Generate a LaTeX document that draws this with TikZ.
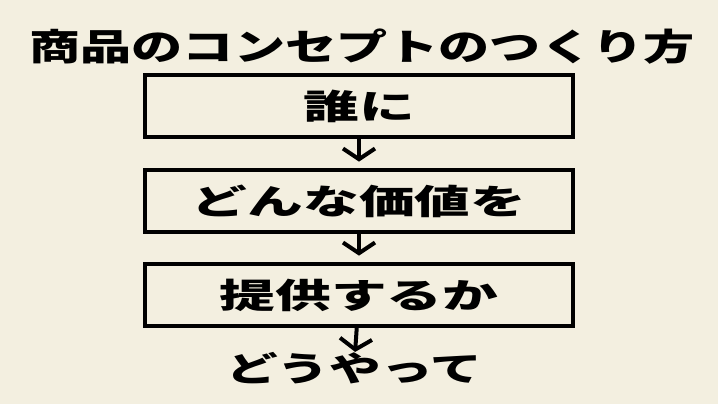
\documentclass[tikz,border=0pt]{standalone}
\usepackage{fontspec}
\usetikzlibrary{arrows.meta}
\newfontfamily\titlejp{Noto Sans CJK JP Black}[FakeStretch=1.4]
\newfontfamily\boxjp{Noto Sans CJK JP Black}[FakeStretch=1.62]
\newfontfamily\lastjp{Noto Sans CJK JP Black}[FakeStretch=1.52]
\definecolor{paper}{RGB}{243,239,224}
\tikzset{
  flowbox/.style={draw, line width=2.6pt, minimum width=321pt, minimum height=46.5pt, inner sep=0pt, font={\boxjp\fontsize{25.8}{27}\selectfont}},
  flowarrow/.style={line width=3pt, -{Straight Barb[length=8pt,width=24pt]}, shorten >=5pt}
}
\begin{document}
\begin{tikzpicture}[x=0.75pt,y=0.75pt,yscale=-1,xscale=1]
%set diagram left start at 0, and has height of 404
\useasboundingbox[fill=paper] (0,0) rectangle (718,404);

% Text Node
\node (title) at (362,47) [inner sep=0pt, font={\titlejp\fontsize{27.4}{29}\selectfont}] {商品のコンセプトのつくり方};
% Boxes
\node (who) at (359,106) [flowbox] {誰に};
\node (what) at (359,201) [flowbox] {どんな価値を};
\node (offer) at (359,295) [flowbox] {提供するか};
% Text Node
\node (how) at (354,368) [inner sep=0pt, font={\lastjp\fontsize{25.5}{27}\selectfont}] {どうやって};

%Straight Lines
\draw [flowarrow] (who) -- (what);
\draw [flowarrow] (what) -- (offer);
\draw [flowarrow, shorten >=0pt] (offer) -- (how);

\end{tikzpicture}
\end{document}
